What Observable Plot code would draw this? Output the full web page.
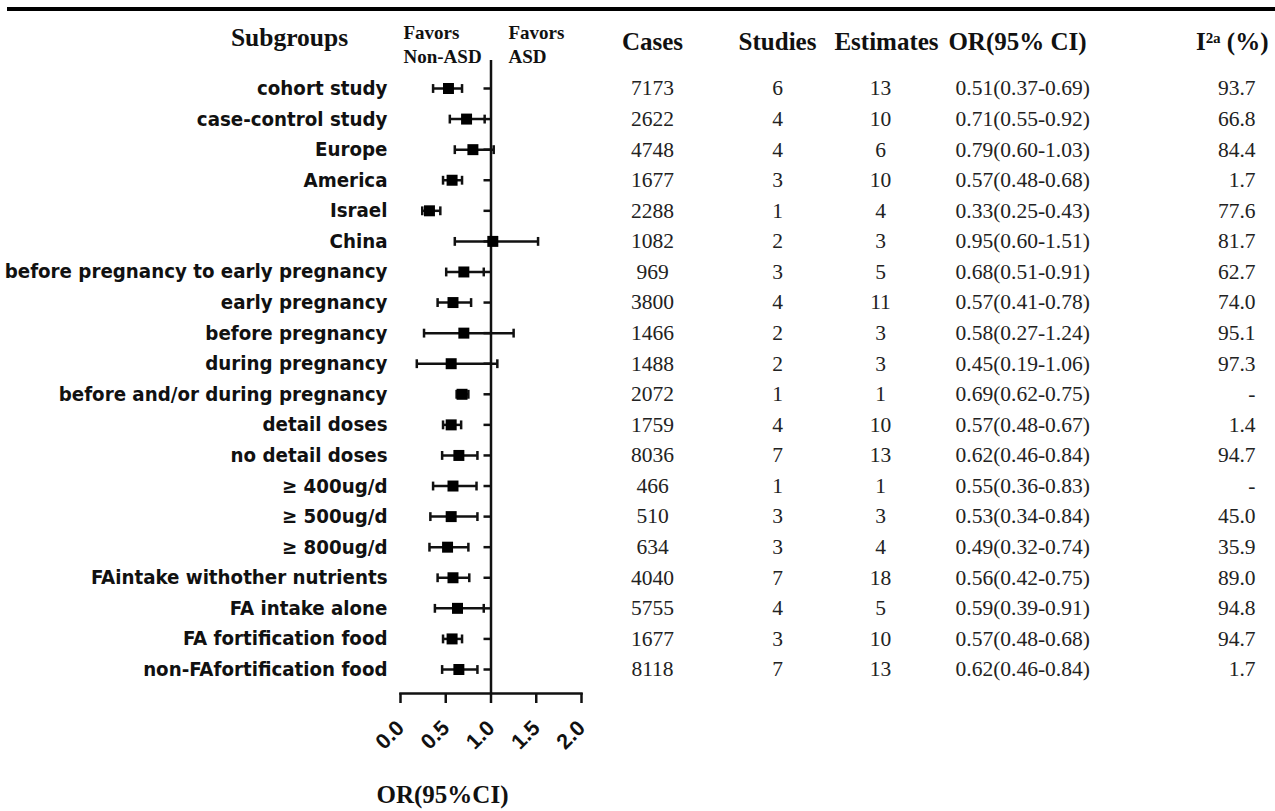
<!DOCTYPE html>
<html>
<head>
<meta charset="utf-8">
<script src="https://cdn.jsdelivr.net/npm/d3@7"></script>
<script src="https://cdn.jsdelivr.net/npm/@observablehq/plot@0.6"></script>
<style>
  html, body { margin: 0; padding: 0; background: #fff; }
  #wrap { position: relative; width: 1275px; height: 811px; overflow: hidden; }
  #topline { position: absolute; left: 7px; top: 7px; width: 1268px; height: 3.5px; background: #000; }
  svg { display: block; }
</style>
</head>
<body>
<div id="wrap"><div id="topline"></div></div>
<script>
// ---- data ----
const subgroups = ["cohort study","case-control study","Europe","America","Israel","China",
  "before pregnancy to early pregnancy","early pregnancy","before pregnancy","during pregnancy",
  "before and/or during pregnancy","detail doses","no detail doses","\u2265 400ug/d","\u2265 500ug/d",
  "\u2265 800ug/d","FAintake withother nutrients","FA intake alone","FA fortification food","non-FAfortification food"];
// plotted estimate and CI bounds
const est = [0.53,0.73,0.80,0.57,0.32,1.02,0.70,0.58,0.70,0.56,0.68,0.56,0.645,0.58,0.56,0.52,0.58,0.63,0.57,0.645];
const lo  = [0.36,0.545,0.60,0.47,0.24,0.60,0.505,0.41,0.26,0.18,0.62,0.47,0.46,0.36,0.33,0.32,0.41,0.38,0.47,0.46];
const hi  = [0.68,0.93,1.03,0.68,0.44,1.52,0.92,0.78,1.25,1.07,0.75,0.67,0.85,0.84,0.85,0.75,0.76,0.92,0.68,0.85];
const cases = [7173,2622,4748,1677,2288,1082,969,3800,1466,1488,2072,1759,8036,466,510,634,4040,5755,1677,8118];
const studies = [6,4,4,3,1,2,3,4,2,2,1,4,7,1,3,3,7,4,3,7];
const estimates = [13,10,6,10,4,3,5,11,3,3,1,10,13,1,3,4,18,5,10,13];
const orText = ["0.51(0.37-0.69)","0.71(0.55-0.92)","0.79(0.60-1.03)","0.57(0.48-0.68)","0.33(0.25-0.43)",
  "0.95(0.60-1.51)","0.68(0.51-0.91)","0.57(0.41-0.78)","0.58(0.27-1.24)","0.45(0.19-1.06)",
  "0.69(0.62-0.75)","0.57(0.48-0.67)","0.62(0.46-0.84)","0.55(0.36-0.83)","0.53(0.34-0.84)",
  "0.49(0.32-0.74)","0.56(0.42-0.75)","0.59(0.39-0.91)","0.57(0.48-0.68)","0.62(0.46-0.84)"];
const i2Text = ["93.7","66.8","84.4","1.7","77.6","81.7","62.7","74.0","95.1","97.3","-","1.4","94.7","-","45.0","35.9","89.0","94.8","94.7","1.7"];
const xTicks = [0, 0.5, 1, 1.5, 2];
const headers = ["Subgroups","Favors\nNon-ASD","Favors\nASD","Cases","Studies","Estimates","OR(95% CI)","I\u00B2\u1D43 (%)"];

const rows = subgroups.map((label, i) => ({
  label, est: est[i], lo: lo[i], hi: hi[i],
  cases: String(cases[i]), studies: String(studies[i]), estimates: String(estimates[i]),
  or: orText[i], i2: i2Text[i]
}));

// ---- layout ----
const W = 1275, H = 811;
const mL = 400, mR = 694, mT = 60, mB = 118;
const cx = (mL + (W - mR)) / 2;   // frame centre x (text anchor reference)
const serif = "'Liberation Serif','Times New Roman',serif";
const condensed = "'DejaVu Sans Condensed','DejaVu Sans',sans-serif";
const col = (x) => x - cx;
const ink = "#111";

// vertical cap symbol for CI whiskers
const capSymbol = {draw(ctx, size) { const h = Math.sqrt(size) / 2; ctx.moveTo(0, -h); ctx.lineTo(0, h); }};

const tableCol = (field, x, anchor) => Plot.text(rows, {
  y: "label", text: field, frameAnchor: "top", lineAnchor: "middle", dx: col(x), textAnchor: anchor,
  fontFamily: serif, fontSize: 21.5, fill: "#222"
});
const header = (t, x, y, anchor, size) => Plot.text([t], {frameAnchor: "top", lineAnchor: "middle",
  dx: col(x), dy: y - mT, text: d => d, fontWeight: "bold", fontSize: size, fontFamily: serif,
  textAnchor: anchor, lineHeight: 1.22, fill: "#111"});

const chart = Plot.plot({
  width: W, height: H,
  marginLeft: mL, marginRight: mR, marginTop: mT, marginBottom: mB,
  style: {fontFamily: serif, color: "#000", background: "transparent", overflow: "visible"},
  x: {domain: [0, 2], range: [mL, W - mR]},
  y: {type: "point", domain: subgroups, range: [88, 669], padding: 0, round: false},
  marks: [
    // y labels
    Plot.axisY({anchor: "left", tickSize: 0, tickPadding: 13, label: null,
      fontFamily: condensed, fontWeight: "bold", fontSize: 20.3, fill: ink}),
    // y ticks at the null line
    Plot.ruleY(subgroups, {y: d => d, x1: () => 1, x2: () => 1, insetLeft: -7, strokeWidth: 2.5, stroke: ink}),
    // x axis
    Plot.axisX({ticks: xTicks, tickSize: 10, tickFormat: d3.format(".1f"), tickRotate: -45,
      label: null, strokeWidth: 2.5, fontFamily: "'Liberation Sans',Arial,sans-serif",
      fontWeight: "bold", fontSize: 21.5, tickPadding: 21, fill: ink, stroke: ink}),
    Plot.frame({anchor: "bottom", strokeWidth: 2.5, stroke: ink}),
    // null line at OR = 1
    Plot.ruleX([1], {strokeWidth: 2.5, stroke: ink}),
    // CI bars, caps and points
    Plot.ruleY(rows, {y: "label", x1: "lo", x2: "hi", strokeWidth: 2.5, stroke: ink}),
    Plot.dot(rows, {y: "label", x: "lo", symbol: capSymbol, r: 5, fill: "none", stroke: ink, strokeWidth: 2.5}),
    Plot.dot(rows, {y: "label", x: "hi", symbol: capSymbol, r: 5, fill: "none", stroke: ink, strokeWidth: 2.5}),
    Plot.dot(rows, {y: "label", x: "est", symbol: "square", r: 6.2, fill: "#000", stroke: "none"}),
    // table columns
    tableCol("cases", 652, "middle"),
    tableCol("studies", 777, "middle"),
    tableCol("estimates", 880, "middle"),
    tableCol("or", 955, "start"),
    tableCol("i2", 1255, "end"),
    // headers
    header(headers[0], 289, 36, "middle", 25.5),
    header(headers[1], 403, 43, "start", 19),
    header(headers[2], 508, 43, "start", 19),
    header(headers[3], 652, 40, "middle", 25),
    header(headers[4], 777, 40, "middle", 25),
    header(headers[5], 886, 40, "middle", 25),
    header(headers[6], 1017, 40, "middle", 25),
    header(headers[7], 1268, 40, "end", 25),
    // x axis title
    Plot.text(["OR(95%CI)"], {frameAnchor: "bottom", lineAnchor: "middle", dx: col(442), dy: 794 - (H - mB),
      text: d => d, fontWeight: "bold", fontSize: 25, fontFamily: serif, textAnchor: "middle", fill: "#111"})
  ]
});
document.getElementById("wrap").prepend(chart);
</script>
</body>
</html>
